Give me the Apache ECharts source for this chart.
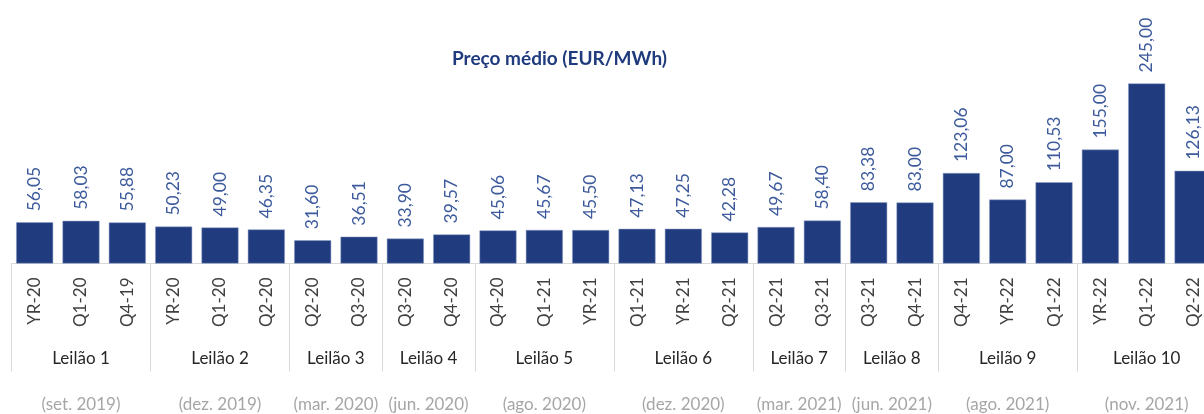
<!DOCTYPE html>
<html>
<head>
<meta charset="utf-8">
<script src="https://cdn.jsdelivr.net/npm/echarts@6/dist/echarts.min.js"></script>
<style>
  html, body { margin: 0; padding: 0; background: #fff; }
  #chart { width: 1204px; height: 414px; }
</style>
</head>
<body>
<div id="chart"></div>
<script>
  // produtos leiloados
  var categories = ['YR-20', 'Q1-20', 'Q4-19', 'YR-20', 'Q1-20', 'Q2-20', 'Q2-20', 'Q3-20', 'Q3-20', 'Q4-20',
    'Q4-20', 'Q1-21', 'YR-21', 'Q1-21', 'YR-21', 'Q2-21', 'Q2-21', 'Q3-21', 'Q3-21', 'Q4-21',
    'Q4-21', 'YR-22', 'Q1-22', 'YR-22', 'Q1-22', 'Q2-22']
  // preço médio EUR/MWh
  var prices = [56.05, 58.03, 55.88, 50.23, 49.00, 46.35, 31.60, 36.51, 33.90, 39.57,
    45.06, 45.67, 45.50, 47.13, 47.25, 42.28, 49.67, 58.40, 83.38, 83.00,
    123.06, 87.00, 110.53, 155.00, 245.00, 126.13]
  // leilões
  var auctions = ['Leilão 1', 'Leilão 2', 'Leilão 3', 'Leilão 4', 'Leilão 5', 'Leilão 6', 'Leilão 7', 'Leilão 8', 'Leilão 9', 'Leilão 10']
  var auctionSizes = [3, 3, 2, 2, 3, 3, 2, 2, 3, 3]
  var auctionDates = ['(set. 2019)', '(dez. 2019)', '(mar. 2020)', '(jun. 2020)', '(ago. 2020)', '(dez. 2020)', '(mar. 2021)', '(jun. 2021)', '(ago. 2021)', '(nov. 2021)']

  /*  limites e centros de cada leilão */
  var bounds = [0]
  var centers = []
  auctionSizes.forEach(function (n) {
    var start = bounds[bounds.length - 1]
    centers.push(start + n / 2)
    bounds.push(start + n)
  })

  function groupText(list) {
    return function (v) {
      var i = centers.indexOf(v)
      return i >= 0 ? list[i] : ''
    }
  }

  var font = 'Lato'
  var chart = echarts.init(document.getElementById('chart'))
  chart.setOption({
    animation: false,
    title: {
      text: 'Preço médio (EUR/MWh)',
      left: 447,
      top: 44,
      textStyle: { fontFamily: font, fontSize: 19, fontWeight: 'bold', color: '#1f3a7d' }
    },
    // o gráfico é cortado à direita
    grid: { left: 11.5, top: 43, width: 1204.7, bottom: 150.5, containLabel: false, outerBoundsMode: 'none' },
    xAxis: [{
      type: 'category',
      data: categories,
      axisLine: { lineStyle: { color: '#d9d9d9', width: 1 } },
      axisTick: {
        show: true,
        length: 108,
        interval: function (index) { return bounds.indexOf(index) >= 0 },
        lineStyle: { color: '#d9d9d9' }
      },
      axisLabel: {
        interval: 0, rotate: 90, margin: 14,
        fontFamily: font, fontSize: 17, color: '#404040'
      }
    }, {
      // nome do leilão
      type: 'value', min: 0, max: 26, interval: 0.5, position: 'bottom',
      axisLine: { show: false }, axisTick: { show: false }, splitLine: { show: false },
      axisLabel: { margin: 87, fontFamily: font, fontSize: 17, color: '#262626', formatter: groupText(auctions) }
    }, {
      // data do leilão
      type: 'value', min: 0, max: 26, interval: 0.5, position: 'bottom',
      axisLine: { show: false }, axisTick: { show: false }, splitLine: { show: false },
      axisLabel: { margin: 133, fontFamily: font, fontSize: 17, color: '#a6a6a6', formatter: groupText(auctionDates) }
    }],
    yAxis: { type: 'value', min: 0, max: 300, show: false },
    series: [{
      type: 'bar',
      xAxisIndex: 0,
      data: prices,
      barWidth: 37,
      itemStyle: { color: '#213c7e', borderColor: '#8f9fc6', borderWidth: 0.5 },
      label: {
        show: true, position: 'top', rotate: 90, align: 'left', verticalAlign: 'middle', distance: 11,
        fontFamily: font, fontSize: 17.5, color: '#3d5b9c',
        formatter: function (p) { return p.value.toFixed(2).replace('.', ',') }
      }
    }]
  })
</script>
</body>
</html>
